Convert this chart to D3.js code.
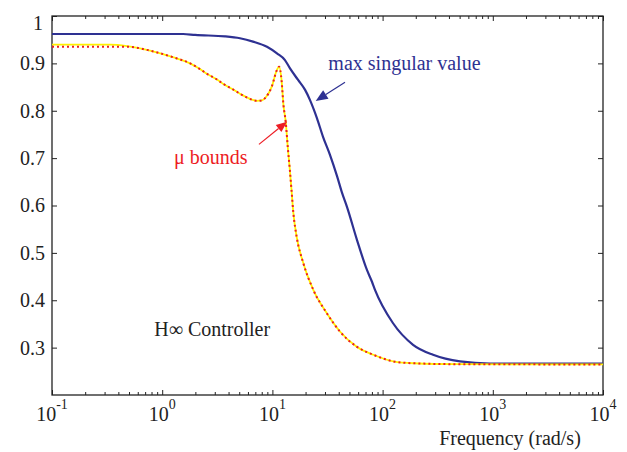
<!DOCTYPE html>
<html>
<head>
<meta charset="utf-8">
<script src="https://cdn.jsdelivr.net/npm/d3@7"></script>
<style>
  html, body { margin: 0; padding: 0; background: #fff; }
  svg { display: block; }
</style>
</head>
<body>
<svg id="chart" width="627" height="452"></svg>
<script>
// Maximum singular value of the closed loop vs frequency (rad/s)
const freqSigma = [0.1, 0.414, 1.55, 1.99, 3.72, 5.08, 6.67, 8.93, 11.0, 13.0,
  14.4, 17.1, 19.8, 21.9, 25.4, 28.8, 33.3, 38.6, 42.8, 47.5,
  58.6, 72.1, 80.1, 85.3, 124, 189, 287, 504, 944, 10000];
const maxSigma = [0.962, 0.962, 0.962, 0.960, 0.957, 0.953, 0.946, 0.935, 0.921, 0.907,
  0.890, 0.865, 0.844, 0.823, 0.784, 0.745, 0.707, 0.662, 0.627, 0.597,
  0.527, 0.464, 0.439, 0.422, 0.352, 0.306, 0.285, 0.271, 0.2665, 0.2665];

// Structured singular value: upper and lower bounds
const freqMu = [0.1, 0.336, 0.48, 0.775, 1.25, 1.79, 2.20, 2.55, 3.14, 3.56,
  4.39, 5.08, 5.88, 7.25, 8.05, 8.75, 9.91, 10.9, 11.5, 12.1,
  12.6, 13.2, 13.8, 14.4, 14.9, 15.5, 16.6, 19.1, 23.5, 31.1,
  41.0, 58.2, 82.4, 125, 190, 504, 10000];
const muLower = [0.935, 0.935, 0.935, 0.927, 0.913, 0.900, 0.888, 0.878, 0.866, 0.857,
  0.845, 0.836, 0.828, 0.821, 0.822, 0.829, 0.852, 0.884, 0.893, 0.865,
  0.812, 0.777, 0.722, 0.675, 0.633, 0.584, 0.534, 0.478, 0.422, 0.373,
  0.334, 0.302, 0.285, 0.271, 0.267, 0.265, 0.2645];
const muUpper = [0.9395, 0.9395, 0.9365, 0.927, 0.913, 0.900, 0.888, 0.878, 0.866, 0.857,
  0.845, 0.836, 0.828, 0.821, 0.822, 0.829, 0.852, 0.884, 0.893, 0.865,
  0.812, 0.777, 0.722, 0.675, 0.633, 0.584, 0.534, 0.478, 0.422, 0.373,
  0.334, 0.302, 0.285, 0.271, 0.267, 0.265, 0.2645];

// Axis ticks
const xDecades = [-1, 0, 1, 2, 3, 4];
const yTicks = [0.3, 0.4, 0.5, 0.6, 0.7, 0.8, 0.9, 1];
const yTickLabels = ["0.3", "0.4", "0.5", "0.6", "0.7", "0.8", "0.9", "1"];
const xLabel = "Frequency (rad/s)";

// Annotations: [freq, value]
const sigmaLabel = { text: "max singular value", at: [32.2, 0.886], tail: [45.6, 0.860], tip: [24.7, 0.8207] };
const muLabel = { text: "\u03bc bounds", at: [1.28, 0.687], tail: [7.55, 0.729], tip: [13.6, 0.777] };
const titleLabel = { text: "H\u221e Controller", at: [0.847, 0.325] };

const FONT = "'Liberation Serif', Tinos, 'Times New Roman', Times, 'DejaVu Serif', serif";
const W = 627, H = 452;
const margin = { left: 52, top: 16, right: 24, bottom: 57 };
const svg = d3.select("#chart").attr("font-family", FONT);

const x = d3.scaleLog().domain([0.1, 10000]).range([margin.left, W - margin.right]);
const y = d3.scaleLinear().domain([0.2, 1]).range([H - margin.bottom, margin.top]);

const axisColor = "#222";
const blue = "#2e3192";
const red = "#ed1c24";
const yellow = "#fff200";

const majorX = xDecades.map(d => Math.pow(10, d));
const minorX = [];
xDecades.slice(0, -1).forEach(d => {
  for (let m = 2; m <= 9; m++) minorX.push(m * Math.pow(10, d));
});

function styleAxis(g) {
  g.attr("font-family", FONT).attr("font-size", 20);
  g.select(".domain").remove();
  g.selectAll("line").attr("stroke", axisColor).attr("stroke-width", 1);
  g.selectAll("text").attr("fill", axisColor);
}

// Bottom axis: major + minor ticks pointing inward
const axisB = svg.append("g").attr("transform", `translate(0,${y.range()[0]})`);
axisB.append("g").call(d3.axisBottom(x).tickValues(majorX).tickSizeInner(-5).tickSizeOuter(0).tickFormat(""))
  .call(styleAxis);
axisB.append("g").call(d3.axisBottom(x).tickValues(minorX).tickSizeInner(-3).tickSizeOuter(0).tickFormat(""))
  .call(styleAxis);

// Top axis mirror ticks
const axisT = svg.append("g").attr("transform", `translate(0,${y.range()[1]})`);
axisT.append("g").call(d3.axisTop(x).tickValues(majorX).tickSizeInner(-5).tickSizeOuter(0).tickFormat(""))
  .call(styleAxis);
axisT.append("g").call(d3.axisTop(x).tickValues(minorX).tickSizeInner(-3).tickSizeOuter(0).tickFormat(""))
  .call(styleAxis);

// Decade labels 10^k
const xl = svg.append("g");
xDecades.forEach(d => {
  const t = xl.append("text")
    .attr("x", x(Math.pow(10, d)))
    .attr("y", y.range()[0] + 26)
    .attr("text-anchor", "middle")
    .attr("font-size", 20)
    .attr("fill", axisColor);
  t.append("tspan").text("10");
  t.append("tspan").attr("font-size", 14).attr("dy", -12).text(String(d));
});

// Left axis with labels, right axis mirror ticks
const axisL = svg.append("g").attr("transform", `translate(${x.range()[0]},0)`)
  .call(d3.axisLeft(y).tickValues(yTicks).tickSizeInner(-5).tickSizeOuter(0).tickPadding(7)
    .tickFormat((d, i) => yTickLabels[i]))
  .call(styleAxis);
axisL.selectAll(".tick text").filter(d => d === 1).attr("dy", "0.68em").attr("dx", -2);

svg.append("g").attr("transform", `translate(${x.range()[1]},0)`)
  .call(d3.axisRight(y).tickValues(yTicks).tickSizeInner(-5).tickSizeOuter(0).tickFormat(""))
  .call(styleAxis);

// Frame
svg.append("rect")
  .attr("x", x.range()[0]).attr("y", y.range()[1])
  .attr("width", x.range()[1] - x.range()[0])
  .attr("height", y.range()[0] - y.range()[1])
  .attr("fill", "none").attr("stroke", axisColor).attr("stroke-width", 1.3);

// X axis title
svg.append("text")
  .attr("x", 510).attr("y", H - 7.5)
  .attr("text-anchor", "middle")
  .attr("font-size", 20)
  .attr("fill", axisColor)
  .text(xLabel);

// Curves
const line = (fx, vy) => d3.line()
  .x((d, i) => x(fx[i]))
  .y((d, i) => y(vy[i]))
  .curve(d3.curveMonotoneX)(vy);

svg.append("path").attr("d", line(freqSigma, maxSigma))
  .attr("fill", "none").attr("stroke", blue).attr("stroke-width", 2.2).attr("stroke-linejoin", "round");

svg.append("path").attr("d", line(freqMu, muUpper))
  .attr("fill", "none").attr("stroke", yellow).attr("stroke-width", 1.8);

svg.append("path").attr("d", line(freqMu, muLower))
  .attr("fill", "none").attr("stroke", red).attr("stroke-width", 2)
  .attr("stroke-dasharray", "2,3");

// Annotation arrows
function arrow(a, color, headLen, headHalf) {
  const x0 = x(a.tail[0]), y0 = y(a.tail[1]);
  const x1 = x(a.tip[0]), y1 = y(a.tip[1]);
  const ang = Math.atan2(y1 - y0, x1 - x0);
  const bx = x1 - headLen * Math.cos(ang), by = y1 - headLen * Math.sin(ang);
  svg.append("line").attr("x1", x0).attr("y1", y0).attr("x2", bx).attr("y2", by)
    .attr("stroke", color).attr("stroke-width", 1.2);
  const px = -Math.sin(ang) * headHalf, py = Math.cos(ang) * headHalf;
  svg.append("polygon")
    .attr("points", [[x1, y1], [bx + px, by + py], [bx - px, by - py]].map(p => p.join(",")).join(" "))
    .attr("fill", color);
}
arrow(sigmaLabel, blue, 12, 5);
arrow(muLabel, red, 11, 4.5);

// Annotation texts
svg.append("text").attr("x", x(sigmaLabel.at[0])).attr("y", y(sigmaLabel.at[1]))
  .attr("font-size", 20).attr("fill", blue).text(sigmaLabel.text);
svg.append("text").attr("x", x(muLabel.at[0])).attr("y", y(muLabel.at[1]))
  .attr("font-size", 20).attr("fill", red).text(muLabel.text);
svg.append("text").attr("x", x(titleLabel.at[0])).attr("y", y(titleLabel.at[1]))
  .attr("font-size", 20).attr("fill", axisColor).text(titleLabel.text);
</script>
</body>
</html>
